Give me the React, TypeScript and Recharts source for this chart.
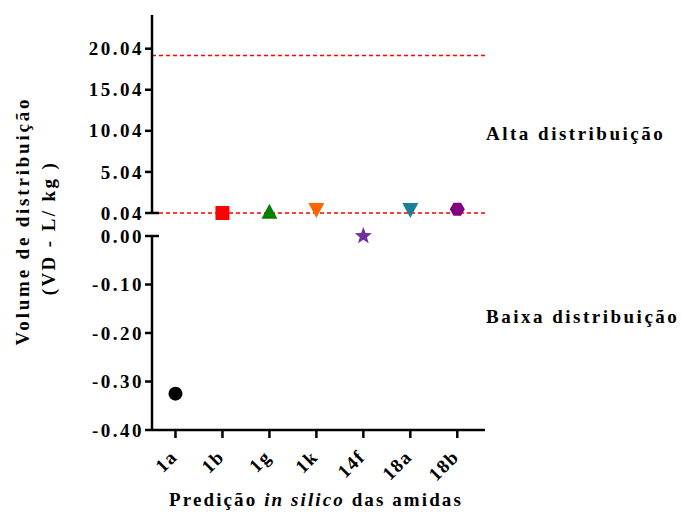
import React from 'react';
import { ScatterChart, Scatter, XAxis, YAxis, ReferenceLine } from 'recharts';

const CATEGORIES = ['1a', '1b', '1g', '1k', '14f', '18a', '18b'];
const VD_VALUES = [-0.325, 0.04, 0.2, 0.4, 0.0, 0.4, 0.5];
const UPPER_TICKS = [0.04, 5.04, 10.04, 15.04, 20.04];
const LOWER_TICKS = [0.0, -0.1, -0.2, -0.3, -0.4];
const THRESHOLDS = [19.2, 0.04];
const BREAK_VALUE = 0.04;

const MARKERS = [
  { kind: 'circle', color: '#000000' },
  { kind: 'square', color: '#ff0000' },
  { kind: 'triangle', color: '#008000' },
  { kind: 'down', color: '#ff6600' },
  { kind: 'star', color: '#7030a0' },
  { kind: 'down', color: '#1a7f99' },
  { kind: 'hexagon', color: '#800080' },
];

const W = 681;
const H = 516;
const AXIS_X = 152;
const RIGHT = 196;
const FONT = 'Liberation Serif, Times New Roman, serif';
const X_DOMAIN = [0.5, 7.59];
const textStyle = { fontFamily: FONT, fontWeight: 700 };

function Marker({ cx, cy, kind, color }) {
  if (cx == null || cy == null) return null;
  if (kind === 'circle') return <circle cx={cx} cy={cy} r={7} fill={color} />;
  if (kind === 'square') return <rect x={cx - 7} y={cy - 7} width={14} height={14} fill={color} />;
  if (kind === 'triangle')
    return <polygon points={`${cx},${cy - 8} ${cx + 8},${cy + 7} ${cx - 8},${cy + 7}`} fill={color} />;
  if (kind === 'down')
    return <polygon points={`${cx - 8},${cy - 7} ${cx + 8},${cy - 7} ${cx},${cy + 8}`} fill={color} />;
  if (kind === 'hexagon') {
    const pts = [0, 1, 2, 3, 4, 5]
      .map((i) => {
        const a = (Math.PI / 3) * i;
        return `${cx + 7.5 * Math.cos(a)},${cy + 7.5 * Math.sin(a)}`;
      })
      .join(' ');
    return <polygon points={pts} fill={color} />;
  }
  // star
  const pts = [];
  for (let i = 0; i < 10; i++) {
    const r = i % 2 === 0 ? 9 : 3.8;
    const a = -Math.PI / 2 + (Math.PI / 5) * i;
    pts.push(`${cx + r * Math.cos(a)},${cy + r * Math.sin(a)}`);
  }
  return <polygon points={pts.join(' ')} fill={color} />;
}

function YTick({ y, payload, cap }) {
  const isCap = Math.abs(payload.value - cap) < 1e-6;
  return (
    <g>
      <line x1={AXIS_X - 7} x2={isCap ? AXIS_X + 7 : AXIS_X} y1={y} y2={y} stroke="#000" strokeWidth={2.5} />
      <text
        x={AXIS_X - 8}
        y={y}
        dy="0.35em"
        textAnchor="end"
        style={{ ...textStyle, fontSize: 19, letterSpacing: 2.5 }}
        fill="#000"
      >
        {payload.value.toFixed(2)}
      </text>
    </g>
  );
}

function XTick({ x, y, payload }) {
  const label = CATEGORIES[payload.value - 1];
  return (
    <g transform={`translate(${x + 3},${y + 18}) rotate(-45)`}>
      <text x={0} y={0} textAnchor="end" style={{ ...textStyle, fontSize: 19, letterSpacing: 1.5 }} fill="#000">
        {label}
      </text>
    </g>
  );
}

const points = CATEGORIES.map((c, i) => ({ x: i + 1, y: VD_VALUES[i], name: c, ...MARKERS[i] }));
const upperPoints = points.filter((p) => p.y >= BREAK_VALUE);
const lowerPoints = points.filter((p) => p.y < BREAK_VALUE);

const axisStroke = { stroke: '#000', strokeWidth: 2.5 };

export default function App() {
  return (
    <div style={{ position: 'absolute', left: 0, top: 0, width: W, height: H, background: '#fff' }}>
      <div style={{ position: 'absolute', left: 0, top: 0 }}>
        <ScatterChart width={W} height={230} margin={{ top: 15, right: RIGHT, bottom: 17, left: 0 }}>
          <XAxis type="number" dataKey="x" domain={X_DOMAIN} hide />
          <YAxis
            type="number"
            dataKey="y"
            width={AXIS_X}
            domain={[0.04, 24.14]}
            ticks={UPPER_TICKS}
            interval={0}
            axisLine={axisStroke}
            tickLine={false}
            tick={(p) => <YTick {...p} cap={BREAK_VALUE} />}
          />
          {THRESHOLDS.map((t) => (
            <ReferenceLine key={t} y={t} stroke="#ff0000" strokeWidth={1.5} strokeDasharray="4 3" />
          ))}
          {upperPoints.map((p) => (
            <Scatter
              key={p.name}
              data={[p]}
              isAnimationActive={false}
              shape={(props) => <Marker cx={props.cx} cy={props.cy} kind={p.kind} color={p.color} />}
            />
          ))}
        </ScatterChart>
      </div>
      <div style={{ position: 'absolute', left: 0, top: 0 }}>
        <ScatterChart width={W} height={H} margin={{ top: 236, right: RIGHT, bottom: 26, left: 0 }}>
          <XAxis
            type="number"
            dataKey="x"
            domain={X_DOMAIN}
            ticks={[1, 2, 3, 4, 5, 6, 7]}
            interval={0}
            height={60}
            axisLine={axisStroke}
            tickLine={axisStroke}
            tickSize={8}
            tick={(p) => <XTick {...p} />}
          />
          <YAxis
            type="number"
            dataKey="y"
            width={AXIS_X}
            domain={[-0.4, 0]}
            ticks={LOWER_TICKS}
            interval={0}
            axisLine={axisStroke}
            tickLine={false}
            tick={(p) => <YTick {...p} cap={0} />}
          />
          {lowerPoints.map((p) => (
            <Scatter
              key={p.name}
              data={[p]}
              isAnimationActive={false}
              shape={(props) => <Marker cx={props.cx} cy={props.cy} kind={p.kind} color={p.color} />}
            />
          ))}
        </ScatterChart>
      </div>
      <svg
        width={W}
        height={H}
        style={{ position: 'absolute', left: 0, top: 0, pointerEvents: 'none', ...textStyle }}
        fill="#000"
      >
        <text transform="translate(29,221) rotate(-90)" textAnchor="middle" style={{ fontSize: 19, letterSpacing: 2.8 }}>
          Volume de distribuição
        </text>
        <text transform="translate(55,228) rotate(-90)" textAnchor="middle" style={{ fontSize: 19, letterSpacing: 2.4 }}>
          (VD - L/ kg )
        </text>
        <text x={486} y={140} style={{ fontSize: 19, letterSpacing: 2.5 }}>
          Alta distribuição
        </text>
        <text x={486} y={323} style={{ fontSize: 19, letterSpacing: 2.5 }}>
          Baixa distribuição
        </text>
        <text x={316} y={506} textAnchor="middle" style={{ fontSize: 19, letterSpacing: 2.1 }}>
          Predição <tspan fontStyle="italic">in silico</tspan> das amidas
        </text>
      </svg>
    </div>
  );
}
